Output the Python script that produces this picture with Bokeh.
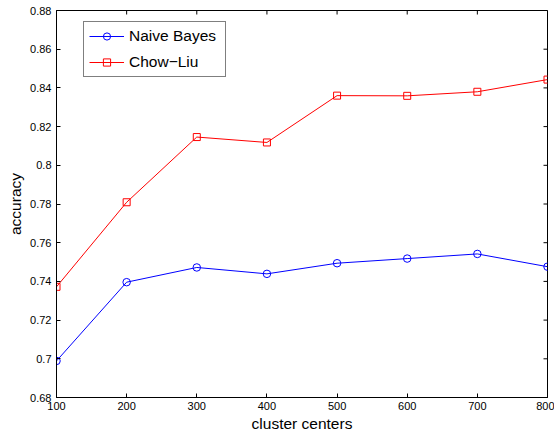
import math
from bokeh.plotting import figure
from bokeh.models import FixedTicker, Range1d, Legend, LegendItem
from bokeh.embed import file_html
from bokeh.resources import INLINE

cluster_centers = [100, 200, 300, 400, 500, 600, 700, 800]
naive_bayes = [0.6989, 0.7396, 0.7472, 0.7439, 0.7494, 0.7518, 0.7542, 0.7476]
chow_liu = [0.7372, 0.7809, 0.8146, 0.8118, 0.8360, 0.8359, 0.8380, 0.8443]
y_ticks = [0.68, 0.70, 0.72, 0.74, 0.76, 0.78, 0.80, 0.82, 0.84, 0.86, 0.88]
y_tick_labels = ["0.68", "0.7", "0.72", "0.74", "0.76", "0.78", "0.8", "0.82", "0.84", "0.86", "0.88"]
x_ticks = [100, 200, 300, 400, 500, 600, 700, 800]
x_min, x_max = 100, 800
y_min, y_max = 0.68, 0.88

FONT = "Liberation Sans"

p = figure(width=554, height=435, output_backend="svg", toolbar_location=None,
           x_range=Range1d(x_min, x_max), y_range=Range1d(y_min, y_max),
           x_axis_label="cluster centers", y_axis_label="accuracy",
           min_border_left=56, min_border_right=7, min_border_top=10, min_border_bottom=38)
p.xgrid.visible = False
p.ygrid.visible = False
p.outline_line_color = "black"
p.outline_line_width = 1
p.background_fill_color = "white"
p.border_fill_color = "white"

def style_axis(ax):
    ax.axis_line_color = "black"
    ax.axis_line_width = 1
    ax.major_tick_in = 4
    ax.major_tick_out = 0
    ax.minor_tick_in = 0
    ax.minor_tick_out = 0
    ax.major_tick_line_color = "black"
    ax.major_label_text_font = FONT
    ax.major_label_text_font_size = "11px"
    ax.major_label_text_color = "black"
    ax.major_label_standoff = 5
    ax.axis_label_text_font = FONT
    ax.axis_label_text_font_style = "normal"
    ax.axis_label_text_font_size = "15.5px"
    ax.axis_label_text_color = "black"
    ax.axis_label_standoff = 3

xa = p.xaxis[0]
ya = p.yaxis[0]
xa.ticker = FixedTicker(ticks=x_ticks)
ya.ticker = FixedTicker(ticks=y_ticks)
ya.major_label_overrides = {t: l for t, l in zip(y_ticks, y_tick_labels)}
style_axis(xa)
style_axis(ya)
xa.major_label_standoff = 4
xa.axis_label_standoff = 2

# inward ticks on the top and right edges of the box (half of each dash is clipped by the frame)
p.scatter(x_ticks, [y_max] * len(x_ticks), marker="dash", angle=math.pi / 2, size=8,
          line_color="black", line_width=1)
p.scatter([x_max] * len(y_ticks), y_ticks, marker="dash", size=8,
          line_color="black", line_width=1)

nb_line = p.line(cluster_centers, naive_bayes, line_color="blue", line_width=1)
nb_pts = p.scatter(cluster_centers, naive_bayes, marker="circle", size=7.5,
                   line_color="blue", fill_color=None, line_width=1)
cl_line = p.line(cluster_centers, chow_liu, line_color="red", line_width=1)
cl_pts = p.scatter(cluster_centers, chow_liu, marker="square", size=7,
                   line_color="red", fill_color=None, line_width=1)

frame_h = 435 - 10 - 38
legend = Legend(items=[
    LegendItem(label="Naive Bayes", renderers=[nb_line, nb_pts]),
    LegendItem(label="Chow\u2212Liu", renderers=[cl_line, cl_pts]),
], location=(27, frame_h - 12 - 55))
legend.label_text_font = FONT
legend.label_text_font_size = "15.5px"
legend.label_text_color = "black"
legend.label_standoff = 5
legend.label_width = 91
legend.label_height = 18
legend.glyph_width = 35
legend.glyph_height = 18
legend.spacing = 8
legend.padding = 5
legend.margin = 0
legend.border_line_color = "black"
legend.border_line_width = 1
legend.background_fill_alpha = 1
p.add_layout(legend, "center")

open("out.html", "w").write(file_html(p, INLINE))
